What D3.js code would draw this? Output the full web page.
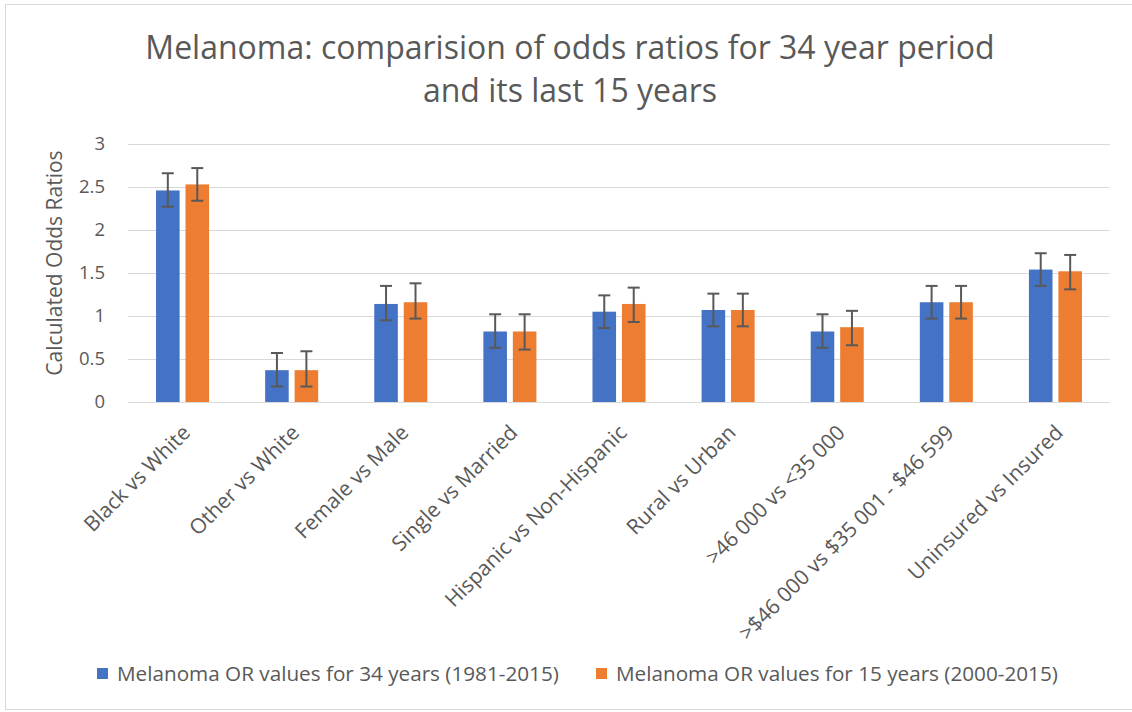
<!DOCTYPE html>
<html>
<head>
<meta charset="utf-8">
<script src="https://cdn.jsdelivr.net/npm/d3@7"></script>
<style>
  body { margin: 0; background: #fff; }
  text { font-family: "Open Sans", sans-serif; fill: #595959; }
</style>
</head>
<body>
<script>
const width = 1132;
const height = 712;

const categories = ['Black vs White', 'Other vs White', 'Female vs Male', 'Single vs Married',
  'Hispanic vs Non-Hispanic', 'Rural vs Urban', '>46 000 vs <35 000',
  '>$46 000 vs $35 001 - $46 599', 'Uninsured vs Insured'];
const seriesNames = ['Melanoma OR values for 34 years (1981-2015)', 'Melanoma OR values for 15 years (2000-2015)'];
const colors = ['#4472c4', '#ed7d31'];

const values34 = [2.46, 0.37, 1.14, 0.82, 1.05, 1.07, 0.82, 1.16, 1.54];
const lower34 = [2.27, 0.18, 0.95, 0.63, 0.86, 0.88, 0.63, 0.97, 1.35];
const upper34 = [2.66, 0.57, 1.35, 1.02, 1.24, 1.26, 1.02, 1.35, 1.73];

const values15 = [2.53, 0.37, 1.16, 0.82, 1.14, 1.07, 0.87, 1.16, 1.52];
const lower15 = [2.34, 0.18, 0.97, 0.61, 0.93, 0.88, 0.66, 0.97, 1.31];
const upper15 = [2.72, 0.59, 1.38, 1.02, 1.33, 1.26, 1.06, 1.35, 1.71];

const yTicks = [0, 0.5, 1, 1.5, 2, 2.5, 3];

const title = ['Melanoma: comparision of odds ratios for 34 year period', 'and its last 15 years'];

function main() {
  const svg = d3.select('body').append('svg').attr('width', width).attr('height', height);

  // chart frame
  svg.append('rect')
    .attr('x', 5.5).attr('y', 4.5).attr('width', width + 10).attr('height', 705)
    .attr('fill', 'none').attr('stroke', '#d9d9d9');

  const plot = { left: 128, right: 1110, top: 144, bottom: 402 };

  const x0 = d3.scaleBand().domain(categories).range([plot.left, plot.right])
    .paddingInner(0.514).paddingOuter(0.257);
  const x1 = d3.scaleBand().domain([0, 1]).range([0, x0.bandwidth()]).paddingInner(0.2);
  const y = d3.scaleLinear().domain([0, 3]).range([plot.bottom, plot.top]);

  // gridlines
  svg.append('g')
    .selectAll('line')
    .data(yTicks)
    .enter()
    .append('line')
    .attr('x1', plot.left).attr('x2', plot.right)
    .attr('y1', d => Math.round(y(d)) + 0.5).attr('y2', d => Math.round(y(d)) + 0.5)
    .attr('stroke', '#d9d9d9').attr('stroke-width', 1);

  // y axis labels
  const yAxis = svg.append('g')
    .attr('transform', `translate(${plot.left},0)`)
    .call(d3.axisLeft(y).tickValues(yTicks).tickSize(0).tickPadding(23).tickFormat(d3.format('')));
  yAxis.select('.domain').remove();
  yAxis.selectAll('text').style('font-size', '18.5px').style('fill', '#595959');

  svg.append('text')
    .attr('transform', `translate(62,${(plot.top + plot.bottom) / 2 - 10}) rotate(-90)`)
    .attr('text-anchor', 'middle')
    .style('font-size', '21px')
    .text('Calculated Odds Ratios');

  const series = [
    { values: values34, lower: lower34, upper: upper34 },
    { values: values15, lower: lower15, upper: upper15 },
  ];

  series.forEach((s, si) => {
    const g = svg.append('g');
    g.selectAll('rect')
      .data(categories)
      .enter()
      .append('rect')
      .attr('x', d => x0(d) + x1(si))
      .attr('y', (d, i) => y(s.values[i]))
      .attr('width', x1.bandwidth())
      .attr('height', (d, i) => y(0) - y(s.values[i]))
      .attr('fill', colors[si]);

    const cx = d => x0(d) + x1(si) + x1.bandwidth() / 2;
    const eb = g.append('g').attr('stroke', '#595959').attr('stroke-width', 2);
    eb.selectAll('line.v')
      .data(categories)
      .enter()
      .append('line')
      .attr('x1', cx).attr('x2', cx)
      .attr('y1', (d, i) => y(s.lower[i])).attr('y2', (d, i) => y(s.upper[i]));
    [s.lower, s.upper].forEach(arr => {
      eb.append('g').selectAll('line')
        .data(categories)
        .enter()
        .append('line')
        .attr('x1', d => cx(d) - 6).attr('x2', d => cx(d) + 6)
        .attr('y1', (d, i) => y(arr[i])).attr('y2', (d, i) => y(arr[i]));
    });
  });

  // x labels
  svg.append('g')
    .selectAll('text')
    .data(categories)
    .enter()
    .append('text')
    .attr('text-anchor', 'end')
    .attr('transform', d => `translate(${x0(d) + x0.bandwidth() / 2 + 9},${plot.bottom + 32}) rotate(-45)`)
    .style('font-size', '21px')
    .text(d => d);

  // title
  svg.append('g')
    .selectAll('text')
    .data(title)
    .enter()
    .append('text')
    .attr('x', 570)
    .attr('y', (d, i) => 59 + i * 43)
    .attr('text-anchor', 'middle')
    .style('font-size', '32px')
    .text(d => d);

  // legend
  const legendX = [97, 596];
  const legend = svg.append('g');
  legend.selectAll('rect')
    .data(seriesNames)
    .enter()
    .append('rect')
    .attr('x', (d, i) => legendX[i]).attr('y', 668)
    .attr('width', 11).attr('height', 11)
    .attr('fill', (d, i) => colors[i]);
  legend.selectAll('text')
    .data(seriesNames)
    .enter()
    .append('text')
    .attr('x', (d, i) => legendX[i] + 20).attr('y', 681)
    .style('font-size', '20.7px')
    .text(d => d);
}

main();
</script>
</body>
</html>
